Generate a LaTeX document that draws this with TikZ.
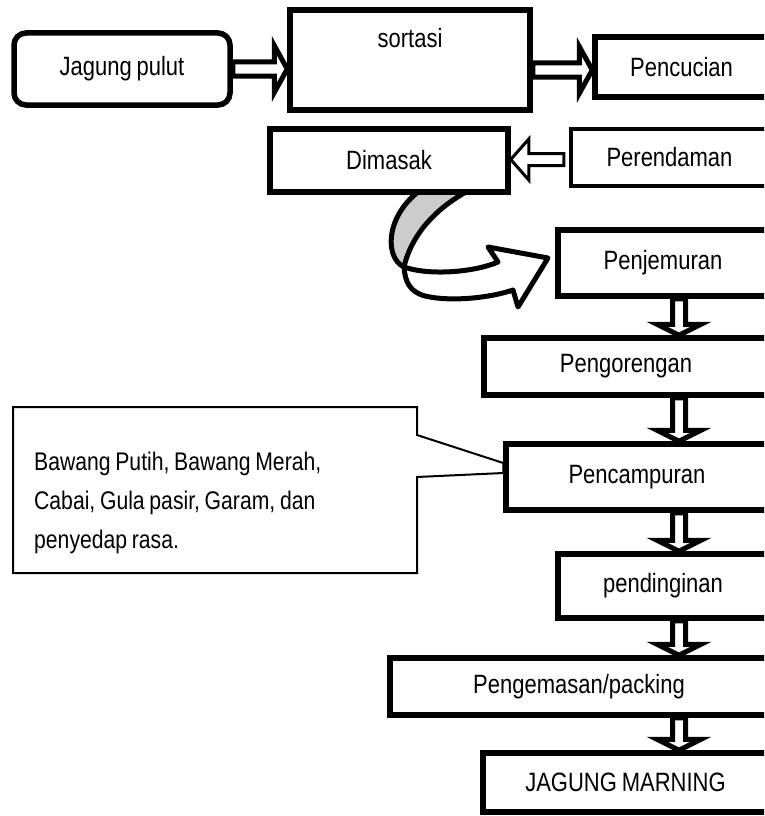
\documentclass[tikz,border=0pt]{standalone}
\usepackage{fontspec}
\setmainfont{Liberation Sans}[FakeStretch=0.83, WordSpace=0.8]
\usetikzlibrary{calc, backgrounds, positioning}

% block arrow: [style]{from}{to}{shaft half width}{head half width}{head length}
\newcommand{\blockarrow}[6][]{%
  \coordinate (ba-h) at ($(#3)!#6pt!(#2)$);
  \draw[#1] ($(#2)!#4pt!90:(#3)$) -- ($(ba-h)!#4pt!90:(#3)$) -- ($(ba-h)!#5pt!90:(#3)$) -- (#3)
    -- ($(ba-h)!#5pt!-90:(#3)$) -- ($(ba-h)!#4pt!-90:(#3)$) -- ($(#2)!#4pt!-90:(#3)$) -- cycle;}

\begin{document}
\begin{tikzpicture}[x=1pt, y=-1pt,
    box/.style={draw, line width=5.5pt, fill=white, rectangle, inner sep=0pt, font=\fontsize{26.5}{31}\selectfont},
    bigarrow/.style={draw, line width=5pt, fill=white},
    thinarrow/.style={draw, line width=3pt, fill=white},
    ribbon/.style={draw, line width=5pt, line join=round},
    note/.style={inner sep=0pt, align=left, text width=390pt, font=\fontsize{25.5}{39}\selectfont,
      execute at begin node={\spaceskip=0pt\xspaceskip=0pt\relax}}]
  \useasboundingbox (0,0) rectangle (764,816);
  \clip (0,0) rectangle (764,816);

  \node[box, rounded corners=12pt, minimum width=216pt, minimum height=72pt] (jp) at (122,69) {Jagung pulut};
  \node[box, minimum width=240pt, minimum height=100pt, text height=19pt, text depth=43pt] (srt) at (410,60) {sortasi};
  \node[box, minimum width=173pt, minimum height=60pt] (pcc) at (681.5,67) {Pencucian};
  \node[box, line width=4.5pt, minimum width=197pt, minimum height=57pt] (prd) at (669.5,157.5) {Perendaman};
  \node[box, minimum width=238pt, minimum height=63pt] (dms) at (389,160.5) {Dimasak};
  \node[box, minimum width=210pt, minimum height=66pt] (pjm) at (663,263) {Penjemuran};
  \node[box, minimum width=284pt, minimum height=57pt] (pgr) at (626,366.5) {Pengorengan};
  \node[box, minimum width=262pt, minimum height=66pt] (pcm) at (637,477) {Pencampuran};
  \node[box, minimum width=210pt, minimum height=64pt] (pdn) at (663,586) {pendinginan};
  \node[box, minimum width=378pt, minimum height=57pt] (pgm) at (579,686.5) {Pengemasan/packing};
  \node[box, minimum width=285pt, minimum height=59pt] (jm) at (625.5,782.5) {JAGUNG MARNING};

  \node[note, anchor=north west] (cal) at (34,452)
    {Bawang Putih, Bawang Merah,\\ Cabai, Gula pasir, Garam, dan\\ penyedap rasa.};

  \coordinate (col) at (679,0);
  \coordinate (a1s) at (jp.east);
  \coordinate (a1e) at (jp.east -| srt.west);
  \coordinate (a2s) at (srt.east |- 0,70);
  \coordinate (a2e) at (pcc.west |- 0,70);
  \coordinate (a3s) at ($(prd.west)+(-5,2)$);
  \coordinate (a3e) at ($(prd.west -| dms.east)+(0,2)$);

  \begin{scope}[on background layer]
    % callout
    \draw[line width=2pt, fill=white] (13,407) -- (417,407) -- (417,435) -- ($(pcm.west)+(0,-14)$)
      -- ($(pcm.west)+(0,-4)$) -- (417,477) -- (417,573) -- (13,573) -- cycle;
    % Dimasak -> Penjemuran
    \draw[ribbon, fill=black!20] (418,192) .. controls (385,218) and (385,258) .. (404,267)
      .. controls (410,240) and (430,212) .. (466,192) -- cycle;
    \draw[ribbon, fill=white] (404,267) .. controls (405,282) and (410,292) .. (425,296)
      .. controls (450,302) and (490,298) .. (513,290) -- (518,307) -- (548,258) -- (488,247)
      -- (498,262) .. controls (475,272) and (430,276) .. (404,267) -- cycle;

    \blockarrow[bigarrow]{a1s}{a1e}{7}{23.5}{13}
    \blockarrow[bigarrow]{a2s}{a2e}{7}{23.5}{13}
    \blockarrow[thinarrow]{a3s}{a3e}{6}{20.5}{18}
    \foreach \up/\down in {pjm/pgr, pgr/pcm, pcm/pdn, pdn/pgm, pgm/jm} {
      \coordinate (\up-out) at (\up.south -| col);
      \coordinate (\down-in) at (\down.north -| col);
      \blockarrow[bigarrow]{\up-out}{\down-in}{6.5}{22}{11}
    }
  \end{scope}
\end{tikzpicture}
\end{document}
